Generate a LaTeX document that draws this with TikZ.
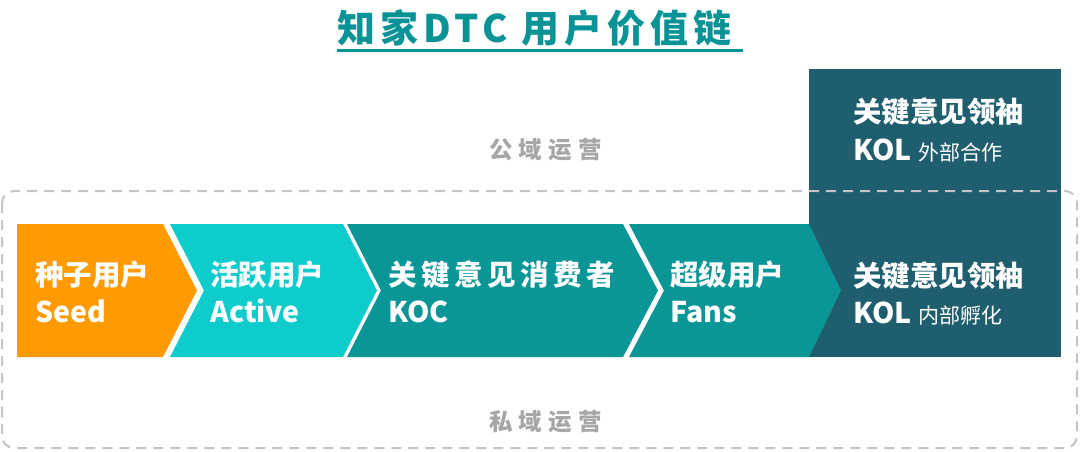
\documentclass[tikz,border=0pt]{standalone}
\usepackage{fontspec}
\setmainfont{Noto Sans CJK SC}
\newfontfamily\titlefont{Noto Sans CJK SC}[LetterSpace=13]
\newfontfamily\kocfont{Noto Sans CJK SC}[LetterSpace=16]
\newfontfamily\grayfont{Noto Sans CJK SC}[LetterSpace=26]
\definecolor{cOrange}{HTML}{FF9A00}
\definecolor{cCyan}{HTML}{0ECCCC}
\definecolor{cTeal}{HTML}{0A9697}
\definecolor{cDark}{HTML}{1F5E6E}
\definecolor{cTitle}{HTML}{0A9396}
\definecolor{cDash}{HTML}{C4C4C4}
\definecolor{cGray}{HTML}{A6A6A6}
\newcommand{\subtxt}[1]{{\fontsize{21}{23}\selectfont\mdseries #1}}
\begin{document}
\begin{tikzpicture}[x=1pt,y=-1pt,
  big/.style={anchor=base west,inner sep=0pt,text=white,font=\fontsize{28.5}{30}\selectfont\bfseries},
  zone/.style={anchor=base west,inner sep=0pt,text=cGray,font=\grayfont\fontsize{23.5}{25}\selectfont\bfseries},
  dashline/.style={draw=cDash,line width=2pt,dash pattern=on 10pt off 7pt}]
\useasboundingbox (0,0) rectangle (1080,452);
% KOL box
\fill[cDark] (809,69) rectangle (1061,357);
% chevrons
\fill[cOrange] (17,224) -- (163,224) -- (197,290.5) -- (163,357) -- (17,357) -- cycle;
\fill[cCyan] (170,224) -- (343,224) -- (377,290.5) -- (343,357) -- (170,357) -- (204,290.5) -- cycle;
\fill[cTeal] (347,224) -- (623,224) -- (658,290.5) -- (623,357) -- (347,357) -- (381,290.5) -- cycle;
\fill[cTeal] (629,224) -- (809,224) -- (841,290.5) -- (809,357) -- (629,357) -- (664,290.5) -- cycle;
% dashed zone
\draw[dashline,rounded corners=12pt] (2,191) rectangle (1077,448);
% title
\node[anchor=base west,inner sep=0pt,text=cTitle,font=\titlefont\fontsize{38}{40}\selectfont\bfseries] (title) at (337,43) {知家DTC 用户价值链};
\draw[cTitle,line width=2.5pt] (337,50.5) -- (743,50.5);
% zone labels
\node[zone] (pub) at (489,158) {公域运营};
\node[zone] (pri) at (489,430) {私域运营};
% chevron texts
\node[big] (s1) at (35,285) {种子用户};
\node[big] (s2) at (35,322) {Seed};
\node[big] (a1) at (210,285) {活跃用户};
\node[big] (a2) at (210,322) {Active};
\node[big,font=\kocfont\fontsize{28.5}{30}\selectfont\bfseries] (k1) at (388,285) {关键意见消费者};
\node[big] (k2) at (388,322) {KOC};
\node[big] (f1) at (670,285) {超级用户};
\node[big] (f2) at (670,322) {Fans};
% KOL texts
\node[big] (o1) at (853,123) {关键意见领袖};
\node[big] (o2) at (853,160) {KOL\ \subtxt{外部合作}};
\node[big] (i1) at (853,286) {关键意见领袖};
\node[big] (i2) at (853,323) {KOL\ \subtxt{内部孵化}};
\end{tikzpicture}
\end{document}
